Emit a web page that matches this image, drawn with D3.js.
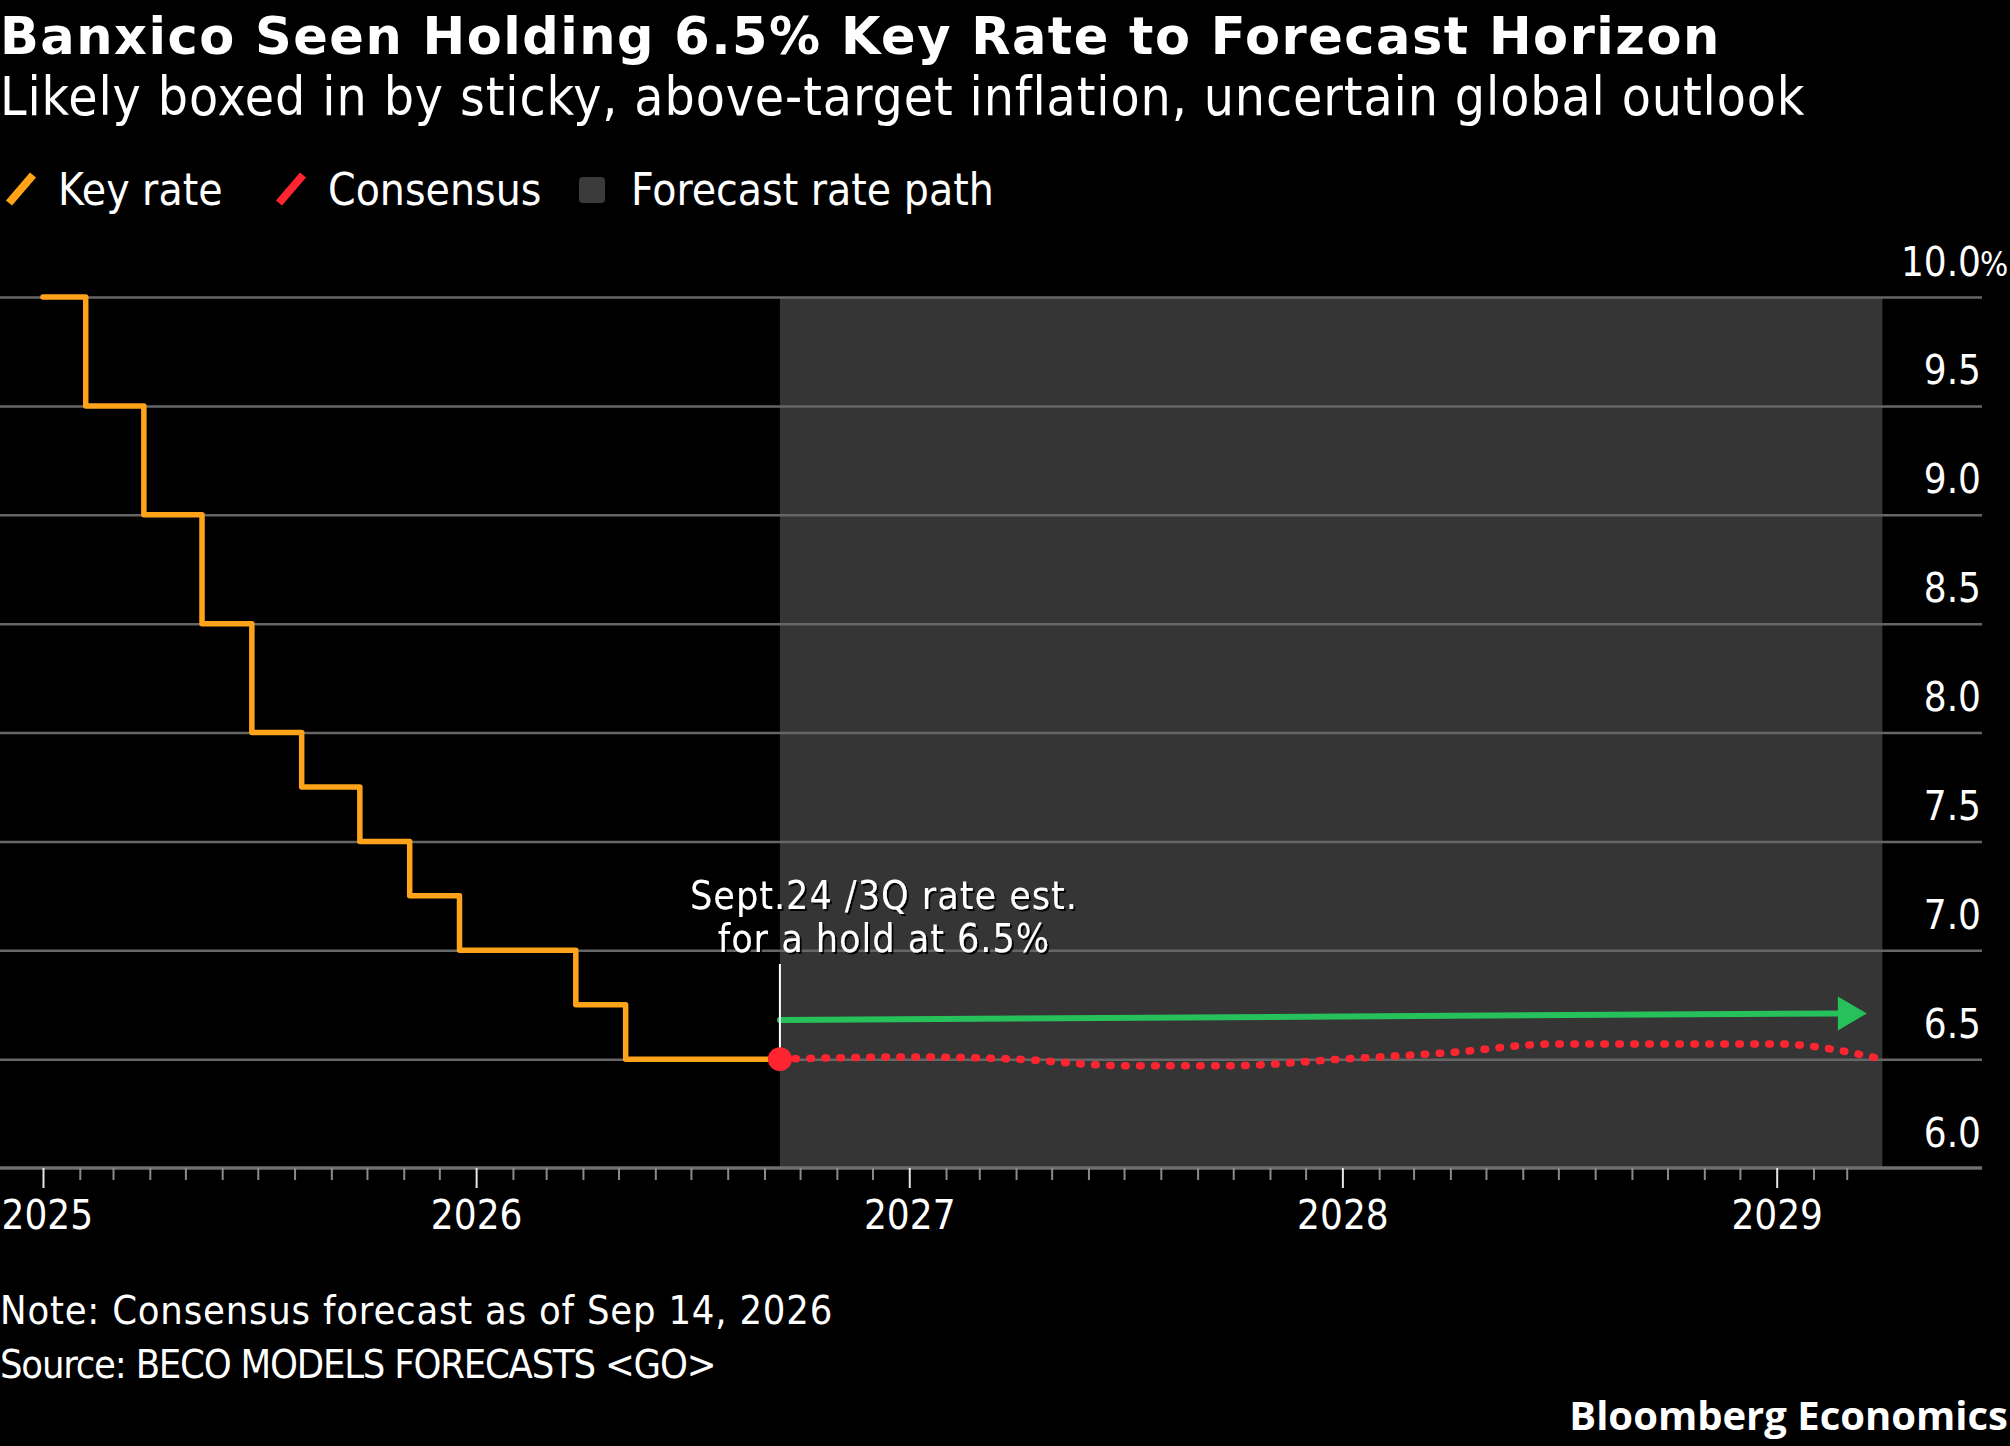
<!DOCTYPE html>
<html>
<head>
<meta charset="utf-8">
<script src="https://cdn.jsdelivr.net/npm/d3@7"></script>
<style>
  html, body { margin: 0; padding: 0; background: #000; }
  svg { display: block; }
  text { fill: #fff; }
</style>
</head>
<body>
<svg id="chart" width="2010" height="1446"></svg>
<script>
// ---- data ----
var keyRateDates = ['2025-01-01', '2025-02-06', '2025-03-27', '2025-05-15', '2025-06-26', '2025-08-07',
	'2025-09-25', '2025-11-06', '2025-12-18', '2026-03-26', '2026-05-07', '2026-09-14']
var keyRateValues = [10.0, 9.5, 9.0, 8.5, 8.0, 7.75, 7.5, 7.25, 7.0, 6.75, 6.5, 6.5]

var consensusDates = ['2026-09-14', '2026-12-31', '2027-03-31', '2027-06-30', '2027-09-30', '2027-12-31',
	'2028-03-31', '2028-06-30', '2028-09-30', '2028-12-31', '2029-03-31']
var consensusValues = [6.5, 6.51, 6.5, 6.47, 6.47, 6.5, 6.53, 6.57, 6.57, 6.57, 6.5]

var forecastPathDates = ['2026-09-14', '2029-03-18']
var forecastPathValues = [6.68, 6.71]

var forecastWindow = ['2026-09-14', '2029-03-31']
var yTicks = [6.0, 6.5, 7.0, 7.5, 8.0, 8.5, 9.0, 9.5, 10.0]

var legendItems = ['Key rate', 'Consensus', 'Forecast rate path']
var annotationLines = ['Sept.24 /3Q rate est.', 'for a hold at 6.5%']

var colors = {
	keyRate: '#ffa31a',
	consensus: '#ff2530',
	path: '#26c15a',
	shade: '#353535',
	grid: '#666666'
}
var condensed = '"DejaVu Sans Condensed", "DejaVu Sans", sans-serif'

var parse = d3.utcParse('%Y-%m-%d')
var zip = (dates, values) => dates.map((d, i) => ({ date: parse(d), value: values[i] }))

var keyRate = zip(keyRateDates, keyRateValues)
var consensus = zip(consensusDates, consensusValues)
var forecastPath = zip(forecastPathDates, forecastPathValues)

var svg = d3.select('#chart')

// drop shadow for the annotation text
svg.append('defs').append('filter')
	.attr('id', 'shadow')
	.attr('x', '-5%').attr('y', '-20%').attr('width', '110%').attr('height', '140%')
	.append('feDropShadow')
	.attr('dx', 2).attr('dy', 2).attr('stdDeviation', 0.6)
	.attr('flood-color', '#000').attr('flood-opacity', 0.9)

// ---- scales ----
var x = d3.scaleUtc()
	.domain([parse('2025-01-01'), parse('2029-01-01')])
	.range([43, 1776.7])
var y = d3.scaleLinear()
	.domain([6, 10])
	.range([1168, 297])
var plotRight = 1982

// ---- header ----
svg.append('text')
	.attr('x', 0).attr('y', 54)
	.attr('font-family', '"DejaVu Sans", sans-serif')
	.attr('font-weight', 'bold')
	.attr('font-size', 51)
	.attr('letter-spacing', 1.5)
	.text('Banxico Seen Holding 6.5% Key Rate to Forecast Horizon')

svg.append('text')
	.attr('x', 0).attr('y', 115)
	.attr('font-family', condensed)
	.attr('font-size', 53)
	.attr('letter-spacing', 0.9)
	.text('Likely boxed in by sticky, above-target inflation, uncertain global outlook')

// legend
var legendX = [0, 270, 579]
var legend = svg.append('g').attr('font-family', condensed).attr('font-size', 44)
legendItems.forEach((label, i) => {
	var g = legend.append('g').attr('transform', `translate(${legendX[i]},0)`)
	if (i < 2) {
		g.append('line')
			.attr('x1', 9).attr('y1', 203).attr('x2', 33).attr('y2', 175)
			.attr('stroke', i === 0 ? colors.keyRate : colors.consensus)
			.attr('stroke-width', 8)
		g.append('text').attr('x', 58).attr('y', 205).text(label)
	} else {
		g.append('rect')
			.attr('x', 0).attr('y', 177).attr('width', 26).attr('height', 26).attr('rx', 4)
			.attr('fill', '#3b3b3b')
		g.append('text').attr('x', 52).attr('y', 205).text(label)
	}
})

// ---- forecast shading ----
svg.append('rect')
	.attr('x', x(parse(forecastWindow[0])))
	.attr('y', y(10))
	.attr('width', x(parse(forecastWindow[1])) - x(parse(forecastWindow[0])))
	.attr('height', y(6) - y(10))
	.attr('fill', colors.shade)

// ---- gridlines ----
var grid = svg.append('g')
	.call(d3.axisRight(y).tickValues(yTicks.slice(1)).tickSize(plotRight).tickFormat(''))
grid.select('.domain').remove()
grid.selectAll('line').attr('stroke', colors.grid).attr('stroke-width', 2.5)

// y labels
var yAxis = svg.append('g')
	.attr('transform', `translate(${plotRight - 1},0)`)
	.call(d3.axisLeft(y).tickValues(yTicks).tickSize(0).tickPadding(0)
		.tickFormat(d => d.toFixed(1)))
yAxis.select('.domain').remove()
yAxis.selectAll('text')
	.attr('dy', null)
	.attr('y', -22)
	.attr('fill', '#fff')
	.attr('font-family', condensed)
	.attr('font-size', 40)
yAxis.selectAll('.tick').filter(d => d === 10)
	.append('text')
	.attr('x', -1).attr('y', -22)
	.attr('text-anchor', 'start')
	.attr('font-family', condensed)
	.attr('font-size', 33)
	.text('%')

// ---- x axis ----
svg.append('line')
	.attr('x1', 0).attr('x2', plotRight)
	.attr('y1', y(6)).attr('y2', y(6))
	.attr('stroke', '#6e6e6e').attr('stroke-width', 3.5)

var months = d3.utcMonth.range(parse('2025-01-01'), parse('2029-04-01'))
	.filter(d => d.getUTCMonth() !== 0)
var minorAxis = svg.append('g')
	.attr('transform', `translate(0,${y(6)})`)
	.call(d3.axisBottom(x).tickValues(months).tickSize(12).tickFormat(''))
minorAxis.select('.domain').remove()
minorAxis.selectAll('line').attr('stroke', '#8a8a8a').attr('stroke-width', 2)

var majorAxis = svg.append('g')
	.attr('transform', `translate(0,${y(6)})`)
	.call(d3.axisBottom(x).ticks(d3.utcYear.every(1)).tickSize(20).tickFormat(d3.utcFormat('%Y')))
majorAxis.select('.domain').remove()
majorAxis.selectAll('line').attr('stroke', '#e6e6e6').attr('stroke-width', 2)
majorAxis.selectAll('text')
	.attr('dy', null)
	.attr('y', 61)
	.attr('fill', '#fff')
	.attr('font-family', condensed)
	.attr('font-size', 40)
// first label sits flush with the left edge
majorAxis.selectAll('text').filter((d, i) => i === 0)
	.attr('text-anchor', 'start')
	.attr('x', 1 - x(parse('2025-01-01')))

// ---- series ----
svg.append('path')
	.datum(keyRate)
	.attr('d', d3.line().x(d => x(d.date)).y(d => y(d.value)).curve(d3.curveStepAfter))
	.attr('fill', 'none')
	.attr('stroke', colors.keyRate)
	.attr('stroke-width', 5.5)
	.attr('stroke-linejoin', 'round')
	.attr('stroke-linecap', 'round')

svg.append('path')
	.datum(consensus)
	.attr('d', d3.line().x(d => x(d.date)).y(d => y(d.value)).curve(d3.curveMonotoneX))
	.attr('fill', 'none')
	.attr('stroke', colors.consensus)
	.attr('stroke-width', 7.5)
	.attr('stroke-linecap', 'round')
	.attr('stroke-dasharray', '1.5 13.5')

// green forecast path arrow
var p0 = forecastPath[0], p1 = forecastPath[1]
var headLen = 29, headHalf = 17
var ax0 = x(p0.date), ay0 = y(p0.value), ax1 = x(p1.date), ay1 = y(p1.value)
svg.append('line')
	.attr('x1', ax0).attr('y1', ay0)
	.attr('x2', ax1 - headLen + 2).attr('y2', ay1)
	.attr('stroke', colors.path)
	.attr('stroke-width', 6)
	.attr('stroke-linecap', 'round')
svg.append('path')
	.attr('d', `M${ax1},${ay1} L${ax1 - headLen},${ay1 - headHalf} L${ax1 - headLen},${ay1 + headHalf} Z`)
	.attr('fill', colors.path)

// annotation
var anchor = keyRate[keyRate.length - 1]
var annX = x(anchor.date), annY = y(anchor.value)
svg.append('line')
	.attr('x1', annX).attr('x2', annX)
	.attr('y1', 964).attr('y2', annY)
	.attr('stroke', '#fff').attr('stroke-width', 2)

svg.append('circle')
	.attr('cx', annX).attr('cy', annY).attr('r', 12)
	.attr('fill', colors.consensus)

var ann = svg.append('g')
	.attr('font-family', condensed)
	.attr('font-size', 39)
	.attr('letter-spacing', 1)
	.attr('text-anchor', 'middle')
	.attr('filter', 'url(#shadow)')
annotationLines.forEach((t, i) => {
	ann.append('text')
		.attr('x', 884).attr('y', 909 + i * 43)
		.text(t)
})

// ---- footer ----
var foot = svg.append('g').attr('font-family', condensed).attr('font-size', 39.5)
foot.append('text').attr('x', 0).attr('y', 1324)
	.attr('letter-spacing', 0.8)
	.text('Note: Consensus forecast as of Sep 14, 2026')
foot.append('text').attr('x', 0).attr('y', 1378)
	.attr('letter-spacing', -1.2)
	.text('Source: BECO MODELS FORECASTS <GO>')

svg.append('text')
	.attr('x', 2008).attr('y', 1430)
	.attr('text-anchor', 'end')
	.attr('font-family', '"Open Sans", Lato, sans-serif')
	.attr('font-weight', 'bold')
	.attr('font-size', 40)
	.text('Bloomberg Economics')
</script>
</body>
</html>
